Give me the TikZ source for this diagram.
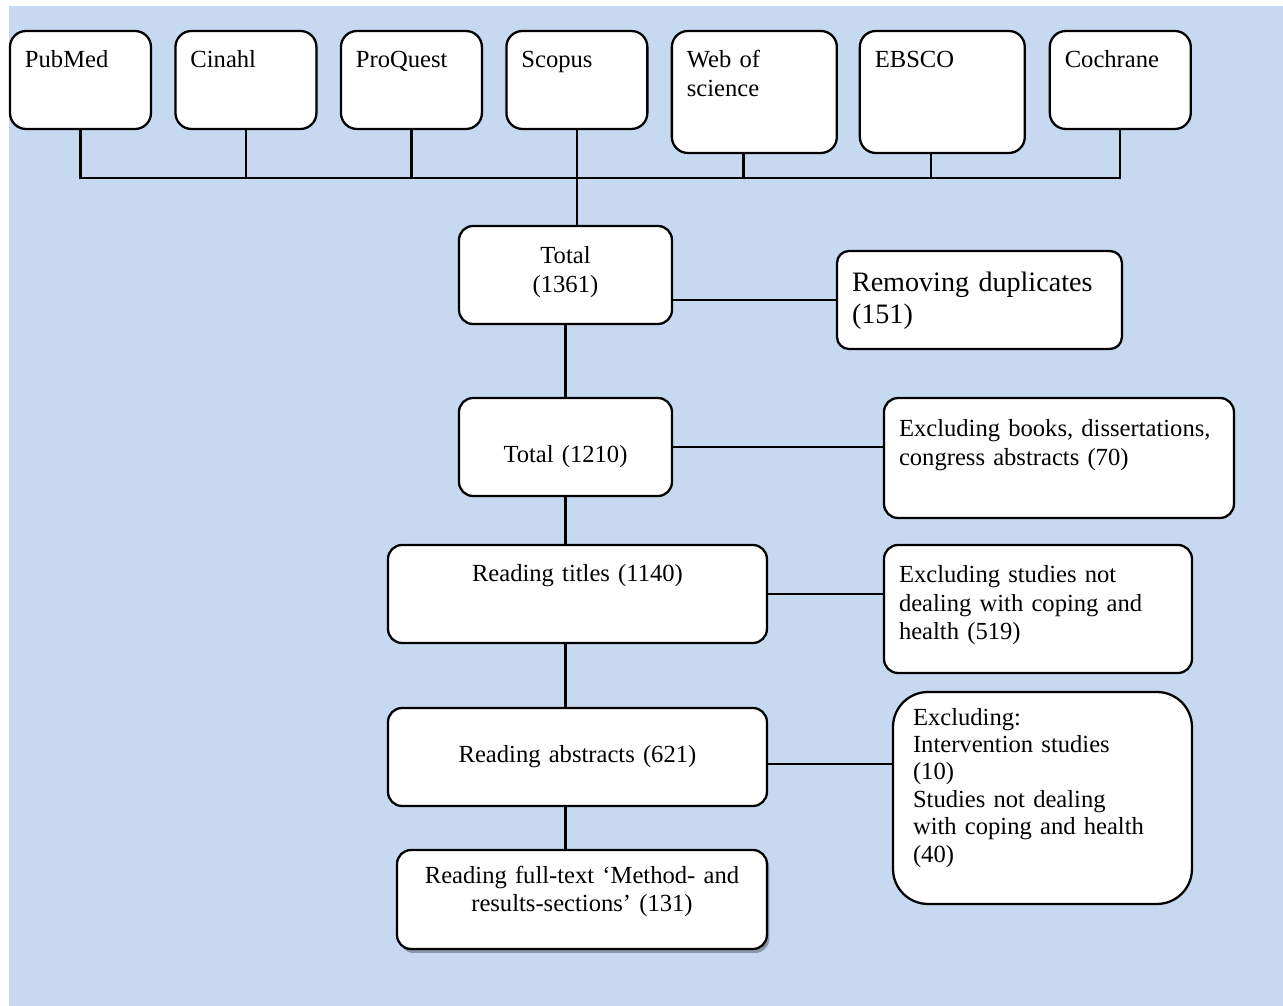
\documentclass[tikz,border=0pt]{standalone}
\usepackage{fontspec}
\setmainfont{Liberation Serif}
\usetikzlibrary{positioning, shadows}
\definecolor{panelblue}{HTML}{C6D9F1}

\begin{document}
\begin{tikzpicture}[
    x=0.02cm, y=-0.02cm,
    box/.style={draw, fill=white, line width=1.3pt, rounded corners=0.28cm, anchor=north west, outer sep=0pt, inner xsep=0.3cm, inner ysep=0pt, align=left, font=\fontsize{14}{16}\selectfont},
    source/.style={box, rounded corners=0.32cm, text width=2.22cm, text height=0.74cm, text depth=1.22cm},
    tallsource/.style={source, text width=2.70cm, text depth=1.70cm},
    link/.style={line width=1.3pt}
]
    \useasboundingbox (0,0) rectangle (1283,1006);
    \fill[panelblue] (9,6) rectangle (1283,1006);

    % Databases
    \node[source] (pubmed) at (10,31) {PubMed};
    \node[source, right=0.49cm of pubmed.north east, anchor=north west] (cinahl) {Cinahl};
    \node[source, right=0.49cm of cinahl.north east, anchor=north west] (proquest) {ProQuest};
    \node[source, right=0.49cm of proquest.north east, anchor=north west] (scopus) {Scopus};
    \node[tallsource, right=0.49cm of scopus.north east, anchor=north west] (wos) {Web of\\science};
    \node[tallsource, right=0.46cm of wos.north east, anchor=north west] (ebsco) {EBSCO};
    \node[source, right=0.5cm of ebsco.north east, anchor=north west] (cochrane) {Cochrane};

    % Screening steps
    \node[box, align=center, text width=3.66cm, text height=0.76cm, text depth=1.20cm] (total1) at (459,226) {Total\\(1361)};
    \node[box, text width=5.10cm, text height=0.82cm, text depth=1.14cm, rounded corners=0.24cm, font=\fontsize{16}{18}\selectfont] (dup) at (837,251) {Removing duplicates\\(151)};
    \node[box, align=center, text width=3.66cm, text height=1.30cm, text depth=0.66cm] (total2) at (459,398) {Total (1210)};
    \node[box, text width=6.40cm, text height=0.78cm, text depth=1.62cm] (exbooks) at (884,398) {Excluding books, dissertations,\\congress abstracts (70)};
    \node[box, align=center, text width=6.98cm, text height=0.74cm, text depth=1.22cm] (titles) at (388,545) {Reading titles (1140)};
    \node[box, text width=5.56cm, text height=0.76cm, text depth=1.80cm] (exstudies) at (884,545) {Excluding studies not\\dealing with coping and\\health (519)};
    \node[box, align=center, text width=6.98cm, text height=1.10cm, text depth=0.86cm] (abstracts) at (388,708) {Reading abstracts (621)};
    \node[box, inner xsep=0.4cm, rounded corners=0.7cm, text width=5.18cm, text height=0.66cm, text depth=3.58cm, font=\fontsize{14}{15.6}\selectfont] (exint) at (893,692) {Excluding:\\Intervention studies\\(10)\\Studies not dealing\\with coping and health\\(40)};
    \node[box, align=center, text width=6.80cm, text height=0.66cm, text depth=1.32cm, drop shadow={shadow xshift=0.05cm, shadow yshift=-0.08cm, fill=black, opacity=0.3}] (fulltext) at (397,850) {Reading full-text ‘Method- and\\results-sections’ (131)};

    % Connectors
    \coordinate (bus) at (0,178);
    \draw[link] (pubmed.south) |- (cochrane.south |- bus) -- (cochrane.south);
    \foreach \db in {cinahl, proquest}
        \draw[link] (\db.south) -- (\db.south |- bus);
    \foreach \db in {wos, ebsco}
        \draw[link] ([xshift=-0.22cm]\db.south) -- ([xshift=-0.22cm]\db.south |- bus);
    \draw[link] (scopus.south) -- (scopus.south |- total1.north);
    \draw[link] (total1) -- (total2);
    \draw[link] (dup.west) -- (dup.west -| total1.east);
    \draw[link] (total2.east) -- (total2.east -| exbooks.west);
    \draw[link] (total2.south) -- (total2.south |- titles.north);
    \draw[link] (titles.east) -- (titles.east -| exstudies.west);
    \draw[link] (titles.south -| total2.south) -- (abstracts.north -| total2.south);
    \draw[link] ([yshift=-0.14cm]abstracts.east) -- ([yshift=-0.14cm]abstracts.east -| exint.west);
    \draw[link] (abstracts.south -| total2.south) -- (fulltext.north -| total2.south);
\end{tikzpicture}
\end{document}
